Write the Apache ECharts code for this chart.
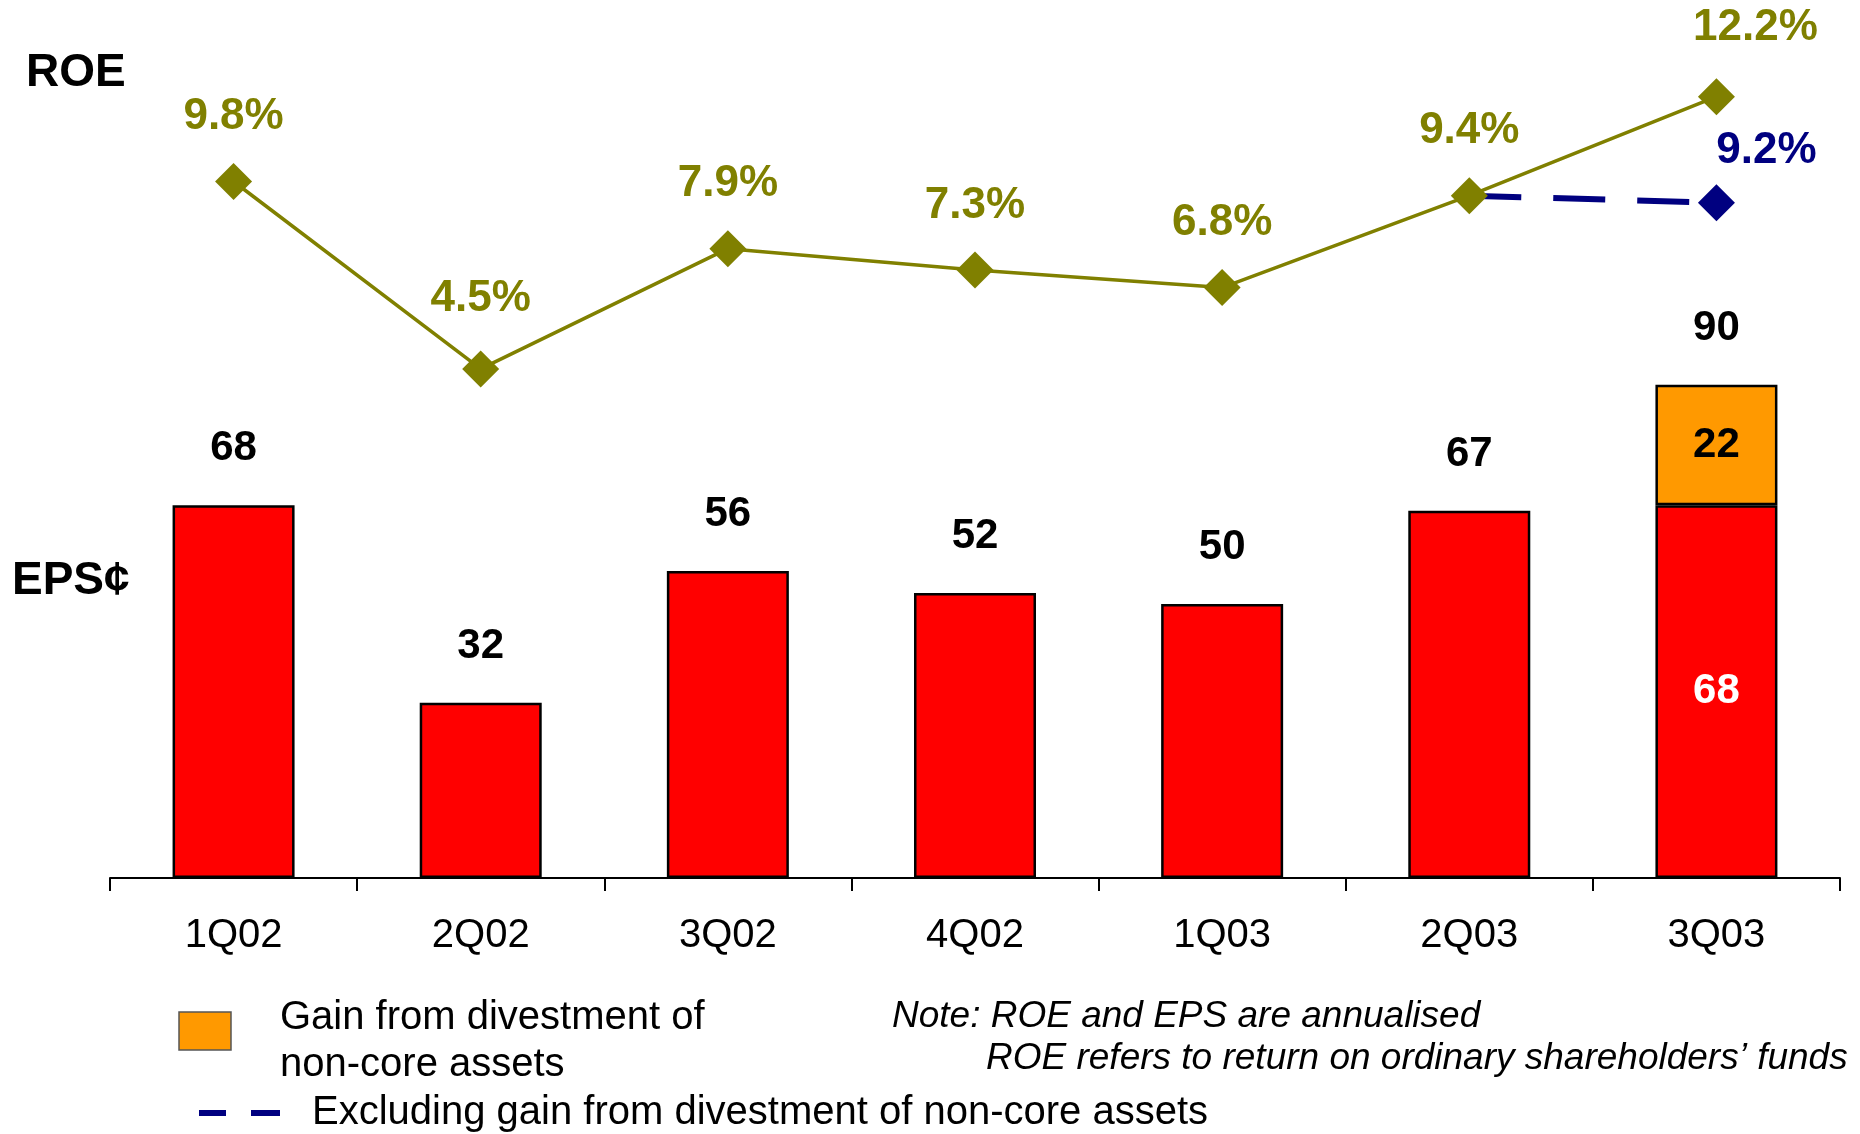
<!DOCTYPE html>
<html>
<head>
<meta charset="utf-8">
<title>ROE and EPS by quarter</title>
<script src="https://cdn.jsdelivr.net/npm/echarts@6/dist/echarts.min.js"></script>
<style>
  html, body { margin: 0; padding: 0; background: #ffffff; }
  #chart { width: 1860px; height: 1134px; }
</style>
</head>
<body>
<div id="chart"></div>
<script>
// Quarterly data
const quarters = ['1Q02', '2Q02', '3Q02', '4Q02', '1Q03', '2Q03', '3Q03'];
const epsCore = [68, 32, 56, 52, 50, 67, 68];          // EPS (cents), excl. divestment gain
const epsGain = [null, null, null, null, null, null, 22]; // gain from divestment of non-core assets
const roe = [9.8, 4.5, 7.9, 7.3, 6.8, 9.4, 12.2];       // ROE (%)
const roeExGain = [null, null, null, null, null, 9.4, 9.2]; // ROE excl. divestment gain (%)

const FONT = "'Liberation Sans', Arial, Helvetica, sans-serif";
const OLIVE = '#808000';
const NAVY = '#000080';
const RED = '#ff0000';
const ORANGE = '#ff9900';

// Total EPS label above each bar
const epsTotal = epsCore.map((v, i) => v + (epsGain[i] || 0));

const left = 110, right = 20;

const chart = echarts.init(document.getElementById('chart'), null, { renderer: 'canvas' });

const option = {
  backgroundColor: '#ffffff',
  animation: false,
  textStyle: { fontFamily: FONT },
  grid: [
    // bar grid (EPS)
    { left: left, right: right, top: 330, bottom: 256, containLabel: false },
    // line grid (ROE)
    { left: left, right: right, top: 33, height: 495, containLabel: false }
  ],
  xAxis: [
    {
      type: 'category', gridIndex: 0, data: quarters, boundaryGap: true,
      axisLine: { show: true, lineStyle: { color: '#000', width: 2 } },
      axisTick: { show: true, length: 13, lineStyle: { color: '#000', width: 2 } },
      axisLabel: { color: '#000', fontSize: 40, fontFamily: FONT, margin: 38, lineHeight: 40 }
    },
    {
      type: 'category', gridIndex: 1, data: quarters, boundaryGap: true,
      show: false
    }
  ],
  yAxis: [
    { type: 'value', gridIndex: 0, min: 0, max: 100, show: false, splitLine: { show: false } },
    { type: 'value', gridIndex: 1, min: 0, max: 14, show: false, splitLine: { show: false } }
  ],
  series: [
    {
      name: 'EPS',
      type: 'bar', xAxisIndex: 0, yAxisIndex: 0, stack: 'eps',
      barWidth: 122,
      itemStyle: { color: RED, borderColor: '#000', borderWidth: 2.5 },
      label: { show: false },
      data: epsCore.map((v, i) => epsGain[i] ? {
        value: v,
        label: {
          show: true, position: 'inside', color: '#ffffff',
          fontSize: 42, fontWeight: 'bold', fontFamily: FONT
        }
      } : v)
    },
    {
      name: 'Gain from divestment of non-core assets',
      type: 'bar', xAxisIndex: 0, yAxisIndex: 0, stack: 'eps',
      barWidth: 122,
      itemStyle: { color: ORANGE, borderColor: '#000', borderWidth: 2.5 },
      label: {
        show: true, position: 'inside', color: '#000',
        fontSize: 42, fontWeight: 'bold', fontFamily: FONT
      },
      data: epsGain.map(v => v === null ? '-' : v)
    },
    {
      name: 'EPS total',
      type: 'scatter', xAxisIndex: 0, yAxisIndex: 0,
      symbolSize: 1,
      itemStyle: { color: 'rgba(0,0,0,0)', opacity: 1 },
      label: {
        show: true, position: 'top', distance: 35,
        color: '#000', fontSize: 42, fontWeight: 'bold', fontFamily: FONT, lineHeight: 42
      },
      z: 5,
      data: epsTotal
    },
    {
      name: 'Excluding gain from divestment of non-core assets',
      type: 'line', xAxisIndex: 1, yAxisIndex: 1,
      symbol: 'diamond', symbolSize: 37,
      lineStyle: { color: NAVY, width: 6, type: [52, 32] },
      itemStyle: { color: NAVY },
      label: {
        show: true, position: 'top', distance: 24,
        color: NAVY, fontSize: 44, fontWeight: 'bold', fontFamily: FONT, lineHeight: 44,
        formatter: p => p.value + '%'
      },
      z: 3,
      data: roeExGain.map((v, i) => {
        if (v === null) return '-';
        if (i === roeExGain.length - 1) {
          return { value: v, label: { offset: [50, 13] } };
        }
        return { value: v, symbol: 'none', label: { show: false } };
      })
    },
    {
      name: 'ROE',
      type: 'line', xAxisIndex: 1, yAxisIndex: 1,
      symbol: 'diamond', symbolSize: 37,
      lineStyle: { color: OLIVE, width: 3.5 },
      itemStyle: { color: OLIVE },
      label: {
        show: true, position: 'top', distance: 24,
        color: OLIVE, fontSize: 44, fontWeight: 'bold', fontFamily: FONT, lineHeight: 44,
        formatter: p => p.value + '%'
      },
      z: 4,
      data: roe.map((v, i) => i === roe.length - 1
        ? { value: v, label: { offset: [39, -4] } }
        : (i === 1 ? { value: v, label: { offset: [0, -6] } } : v))
    }
  ],
  graphic: [
    // axis titles
    { type: 'text', left: 26, top: 50, style: { text: 'ROE', font: 'bold 46px ' + FONT, fill: '#000' } },
    { type: 'text', left: 12, top: 558, style: { text: 'EPS¢', font: 'bold 46px ' + FONT, fill: '#000' } },

    // legend: divestment gain
    { type: 'rect', shape: { x: 179, y: 1012, width: 52, height: 38 },
      style: { fill: ORANGE, stroke: '#555', lineWidth: 1.5 } },
    { type: 'text', x: 280, y: 1018,
      style: { text: 'Gain from divestment of', font: '40px ' + FONT, fill: '#000', verticalAlign: 'middle' } },
    { type: 'text', x: 280, y: 1065,
      style: { text: 'non-core assets', font: '40px ' + FONT, fill: '#000', verticalAlign: 'middle' } },

    // legend: ROE excluding gain
    { type: 'line', shape: { x1: 199, y1: 1113, x2: 226, y2: 1113 },
      style: { stroke: NAVY, lineWidth: 6 } },
    { type: 'line', shape: { x1: 251, y1: 1113, x2: 280, y2: 1113 },
      style: { stroke: NAVY, lineWidth: 6 } },
    { type: 'text', x: 312, y: 1113,
      style: { text: 'Excluding gain from divestment of non-core assets', font: '40px ' + FONT, fill: '#000', verticalAlign: 'middle' } },

    // notes
    { type: 'text', x: 892, y: 1017,
      style: { text: 'Note: ROE and EPS are annualised', font: 'italic 37px ' + FONT, fill: '#000', verticalAlign: 'middle' } },
    { type: 'text', x: 986, y: 1059,
      style: { text: 'ROE refers to return on ordinary shareholders’ funds', font: 'italic 37px ' + FONT, fill: '#000', verticalAlign: 'middle' } }
  ]
};

chart.setOption(option);
</script>
</body>
</html>
